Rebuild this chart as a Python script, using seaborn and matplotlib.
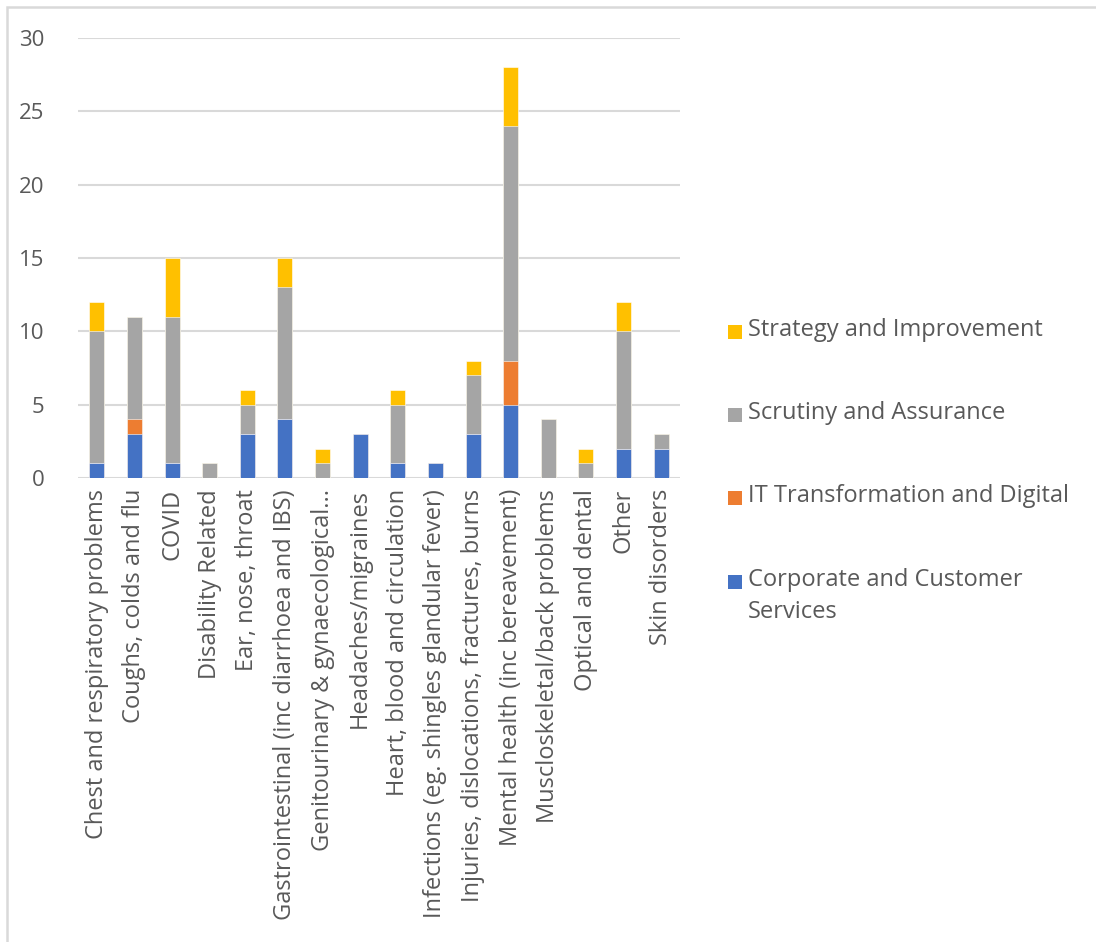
import matplotlib
matplotlib.use("Agg")
import matplotlib.pyplot as plt
from matplotlib.patches import Rectangle
import numpy as np
import pandas as pd
import seaborn as sns

categories = [
    "Chest and respiratory problems",
    "Coughs, colds and flu",
    "COVID",
    "Disability Related",
    "Ear, nose, throat",
    "Gastrointestinal (inc diarrhoea and IBS)",
    "Genitourinary & gynaecological...",
    "Headaches/migraines",
    "Heart, blood and circulation",
    "Infections (eg. shingles glandular fever)",
    "Injuries, dislocations, fractures, burns",
    "Mental health (inc bereavement)",
    "Muscloskeletal/back problems",
    "Optical and dental",
    "Other",
    "Skin disorders",
]

corporate = [1, 3, 1, 0, 3, 4, 0, 3, 1, 1, 3, 5, 0, 0, 2, 2]
it_digital = [0, 1, 0, 0, 0, 0, 0, 0, 0, 0, 0, 3, 0, 0, 0, 0]
scrutiny = [9, 7, 10, 1, 2, 9, 1, 0, 4, 0, 4, 16, 4, 1, 8, 1]
strategy = [2, 0, 4, 0, 1, 2, 1, 0, 1, 0, 1, 4, 0, 1, 2, 0]

series_names = [
    "Corporate and Customer Services",
    "IT Transformation and Digital",
    "Scrutiny and Assurance",
    "Strategy and Improvement",
]
series_colors = ["#4472C4", "#ED7D31", "#A5A5A5", "#FFC000"]
legend_labels = [
    "Strategy and Improvement",
    "Scrutiny and Assurance",
    "IT Transformation and Digital",
    "Corporate and Customer\nServices",
]

sns.set_theme(style="white")
plt.rcParams["font.family"] = ["Open Sans", "DejaVu Sans"]
TEXT = "#595959"

df = pd.DataFrame({
    "category": categories,
    series_names[0]: corporate,
    series_names[1]: it_digital,
    series_names[2]: scrutiny,
    series_names[3]: strategy,
})
cum = df[series_names].cumsum(axis=1)

W, H = 1096, 942
fig = plt.figure(figsize=(W / 100, H / 100), dpi=100)
ax = fig.add_axes([78 / W, 1 - 478 / H, 602 / W, 440 / H])

# Stacked bars: draw running totals from the top series down
for name, color in zip(reversed(series_names), reversed(series_colors)):
    sns.barplot(data=pd.DataFrame({"category": categories, "v": cum[name]}),
                x="category", y="v", color=color, width=0.4,
                edgecolor="white", linewidth=0.4, ax=ax, saturation=1,
                zorder=3)

ax.set_ylim(0, 30)
ax.set_yticks(np.arange(0, 31, 5))
ax.set_xlim(-0.5, len(categories) - 0.5)
ax.grid(axis="y", color="#d9d9d9", linewidth=1.5, zorder=0)
ax.set_axisbelow(True)
for s in ax.spines.values():
    s.set_visible(False)
ax.set_xlabel("")
ax.set_ylabel("")
ax.tick_params(axis="y", length=0, pad=24, labelsize=16, labelcolor=TEXT)
ax.tick_params(axis="x", length=0, pad=8, labelsize=17, labelcolor=TEXT)
ax.set_xticks(range(len(categories)))
ax.set_xticklabels(categories, rotation=90, ha="center", va="top")

# Legend: colour squares with labels, top entry first
legend_y = [332, 415, 498, 582]
for y, color, label in zip(legend_y, reversed(series_colors), legend_labels):
    fig.patches.append(Rectangle((728 / W, 1 - (y + 7) / H), 14 / W, 14 / H,
                                 transform=fig.transFigure,
                                 facecolor=color, edgecolor="none"))
    fig.text(748 / W, 1 - (y - 14) / H, label, ha="left", va="top",
             fontsize=17, color=TEXT, linespacing=1.45)

# Light frame around the chart area
fig.patches.append(Rectangle((7 / W, -0.1), 1.2, 1 - 7 / H + 0.1,
                             transform=fig.transFigure, fill=False,
                             edgecolor="#d9d9d9", linewidth=1.8))

fig.savefig("out.png", dpi=100)
